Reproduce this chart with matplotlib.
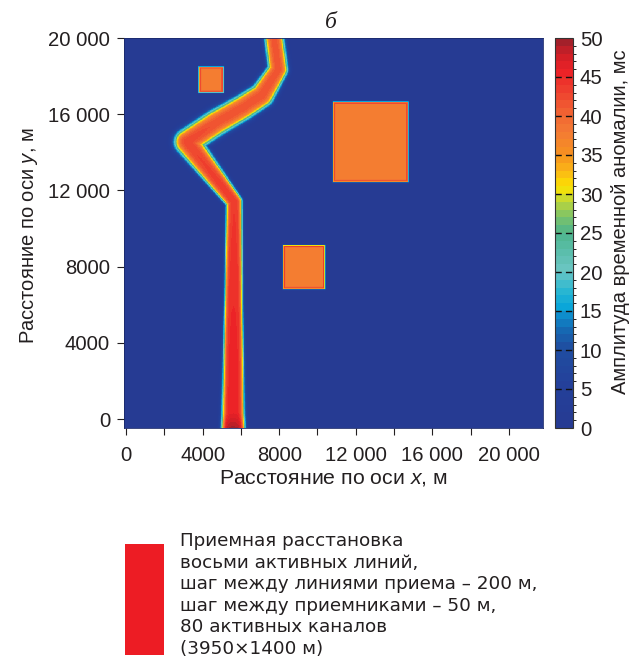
import numpy as np
import matplotlib
matplotlib.use("Agg")
import matplotlib.pyplot as plt
from matplotlib.colors import LinearSegmentedColormap, BoundaryNorm
from matplotlib.patches import Rectangle

# ---------------- data ----------------
x_ticks = [0, 4000, 8000, 12000, 16000, 20000]
x_tick_labels = ["0", "4000", "8000", "12 000", "16 000", "20 000"]
x_minor_ticks = [2000, 6000, 10000, 14000, 18000]
y_ticks = [0, 4000, 8000, 12000, 16000, 20000]
y_tick_labels = ["0", "4000", "8000", "12 000", "16 000", "20 000"]
cbar_ticks = list(range(0, 51, 5))

x_range = (-104, 21780)
y_range = (-470, 20000)

# channel (meandering anomaly) centre line, m
channel_x = [5600, 5600, 5620, 5650, 3200, 4700, 6100, 7100, 7950, 7700]
channel_y = [-600, 300, 6000, 11400, 14550, 15550, 16350, 17000, 18350, 20300]
channel_halfwidth = [600, 560, 460, 400, 640, 640, 620, 600, 480, 470]
channel_soft = [150, 150, 110, 130, 240, 240, 230, 220, 180, 180]
channel_peak = [50, 46, 45, 44, 43, 42, 42, 42, 42, 42]

# square anomalies, m
square_x0 = [3800, 10800, 8200]
square_x1 = [5100, 14750, 10400]
square_y0 = [17130, 12430, 6810]
square_y1 = [18500, 16660, 9135]
square_level = 37.5
square_rim = 45

# colour scale
cmap_values = [0, 5, 10, 12, 14, 15, 17, 20, 22, 25, 27, 29, 30, 31, 33, 35, 38, 40, 43, 46, 48, 50]
cmap_colors = ["#263b93", "#24409a", "#1f4ea1", "#1765b0", "#0f8acb", "#06a3da", "#22b5d3",
               "#6cc6c4", "#5dbfb0", "#4db58c", "#7cc26a", "#bbd63a", "#e1e21a", "#fde100",
               "#fbb617", "#f7941e", "#f47b34", "#f26a33", "#ef4630", "#ec2227", "#d21f26", "#a3202a"]

legend_lines = ["Приемная расстановка",
                "восьми активных линий,",
                "шаг между линиями приема – 200 м,",
                "шаг между приемниками – 50 м,",
                "80 активных каналов",
                "(3950×1400 м)"]

title = "б"
xlabel = "Расстояние по оси $\\mathit{x}$, м"
ylabel = "Расстояние по оси $\\mathit{y}$, м"
cbar_label = "Амплитуда временной аномалии, мс"

# ---------------- style ----------------
plt.rcParams["font.family"] = ["Liberation Sans", "DejaVu Sans"]
plt.rcParams["mathtext.fontset"] = "custom"
plt.rcParams["mathtext.it"] = "Liberation Sans:italic"
plt.rcParams["mathtext.rm"] = "Liberation Sans"
plt.rcParams["lines.scale_dashes"] = False
TXT = "#231f20"

W, H = 632, 669
fig = plt.figure(figsize=(W / 100, H / 100), dpi=100)

def fx(px):
    return px / W

def fy(py):
    return 1 - py / H

ax = fig.add_axes([fx(124), fy(428), (543 - 124) / W, (428 - 38) / H])
cax = fig.add_axes([fx(555), fy(428), 18 / W, 390 / H])

# ---------------- field ----------------
step = 20
gx = np.arange(x_range[0], x_range[1] + step, step)
gy = np.arange(y_range[0], y_range[1] + step, step)
X, Y = np.meshgrid(gx, gy)
field = np.zeros_like(X, dtype=float)

for i in range(len(channel_x) - 1):
    ax0, ay0 = channel_x[i], channel_y[i]
    vx, vy = channel_x[i + 1] - ax0, channel_y[i + 1] - ay0
    t = np.clip(((X - ax0) * vx + (Y - ay0) * vy) / (vx * vx + vy * vy), 0, 1)
    d = np.hypot(X - (ax0 + t * vx), Y - (ay0 + t * vy))
    hw = channel_halfwidth[i] + t * (channel_halfwidth[i + 1] - channel_halfwidth[i])
    s = channel_soft[i] + t * (channel_soft[i + 1] - channel_soft[i])
    pk = channel_peak[i] + t * (channel_peak[i + 1] - channel_peak[i])
    v = pk * 0.5 * (1 - np.tanh((d - hw) / s))
    field = np.maximum(field, v)

for x0, x1, y0, y1 in zip(square_x0, square_x1, square_y0, square_y1):
    dx = np.maximum(np.maximum(x0 - X, X - x1), 0)
    dy = np.maximum(np.maximum(y0 - Y, Y - y1), 0)
    dout = np.hypot(dx, dy)
    din = np.minimum(np.minimum(X - x0, x1 - X), np.minimum(Y - y0, y1 - Y))
    d = np.where(din > 0, -din, dout)
    v = square_level * 0.5 * (1 - np.tanh(d / 50)) + (square_rim - square_level) * np.exp(-((d + 70) / 45) ** 2)
    field = np.maximum(field, v)

field = np.clip(field, 0, 49.9)

cmap = LinearSegmentedColormap.from_list(
    "anom", [(v / 50, c) for v, c in zip(cmap_values, cmap_colors)], N=256)
norm = BoundaryNorm(np.arange(0, 51, 1), cmap.N)

im = ax.imshow(field, origin="lower", cmap=cmap, norm=norm, aspect="auto",
               extent=[gx[0] - step / 2, gx[-1] + step / 2, gy[0] - step / 2, gy[-1] + step / 2],
               interpolation="nearest")
ax.set_xlim(*x_range)
ax.set_ylim(*y_range)

ax.set_xticks(x_ticks)
ax.set_xticklabels(x_tick_labels)
ax.set_xticks(x_minor_ticks, minor=True)
ax.set_yticks(y_ticks)
ax.set_yticklabels(y_tick_labels)
ax.tick_params(axis="both", which="both", direction="out", length=5, width=0.8,
               colors=TXT, labelsize=14.6)
ax.tick_params(axis="x", which="both", pad=8)
ax.tick_params(axis="y", which="both", pad=5)
for sp in ax.spines.values():
    sp.set_linewidth(0.6)
    sp.set_color("#1b2a6b")

# colorbar
cb = fig.colorbar(im, cax=cax, ticks=cbar_ticks)
cb.outline.set_linewidth(0.8)
cb.outline.set_edgecolor("#333333")
cax.tick_params(length=0, labelsize=14.6, colors=TXT, pad=5)
cax.hlines(cbar_ticks[1:-1], 0, 1, transform=cax.get_yaxis_transform(),
           colors="#111111", linewidth=1.0, linestyles=(0, (4.5, 3.0)))

# texts
fig.text(fx(331), fy(23), title, ha="center", va="center", fontsize=17,
         family="Liberation Serif", style="italic", color=TXT)
fig.text(fx(333), fy(483), xlabel, ha="center", va="baseline", fontsize=15.3, color=TXT)
fig.text(fx(29), fy(236), ylabel, ha="center", va="center", rotation=90, fontsize=14.5, color=TXT)
fig.text(fx(620), fy(222), cbar_label, ha="center", va="center", rotation=90, fontsize=14.5, color=TXT)

# legend block
fig.patches.append(Rectangle((fx(125), fy(655)), 39 / W, 111 / H, transform=fig.transFigure,
                             facecolor="#ed1c24", edgecolor="none"))
for i, line in enumerate(legend_lines):
    fig.text(fx(180), fy(546 + i * 21.6), line, ha="left", va="baseline", fontsize=13.2,
             family="DejaVu Sans", color=TXT)

fig.savefig("out.png", dpi=100)
